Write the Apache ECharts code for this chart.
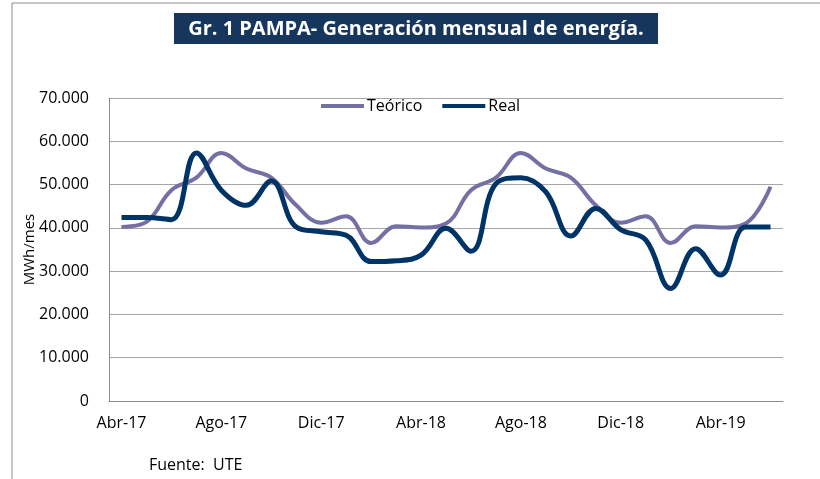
<!DOCTYPE html>
<html>
<head>
<meta charset="utf-8">
<script src="https://cdn.jsdelivr.net/npm/echarts@6/dist/echarts.min.js"></script>
<style>
  html, body { margin: 0; padding: 0; background: #fff; }
  #echar { width: 820px; height: 479px; }
</style>
</head>
<body>
<div id="echar"></div>
<script>
// meses Abr-17 .. Jun-19
var meses = ["Abr-17", "May-17", "Jun-17", "Jul-17", "Ago-17", "Sep-17", "Oct-17", "Nov-17", "Dic-17",
  "Ene-18", "Feb-18", "Mar-18", "Abr-18", "May-18", "Jun-18", "Jul-18", "Ago-18", "Sep-18", "Oct-18",
  "Nov-18", "Dic-18", "Ene-19", "Feb-19", "Mar-19", "Abr-19", "May-19", "Jun-19"];
var teorico = [40200, 41400, 48700, 51600, 57300, 53700, 51600, 45200, 41200, 42700, 36500, 40400, 40100,
  41000, 48700, 51600, 57300, 53700, 51600, 45200, 41200, 42700, 36500, 40400, 40100, 41000, 49500];
var real = [42400, 42400, 41900, 57300, 48700, 45200, 50800, 40200, 39100, 38300, 32200, 32400, 33700,
  39900, 34600, 50200, 51600, 48300, 38100, 44500, 39600, 37200, 26000, 35200, 29100, 40200, 40200];

var fuente = "Open Sans";
var mychart = echarts.init(document.getElementById("echar"));
var option = {
  animation: false,
  textStyle: { fontFamily: fuente },
  graphic: [
    {
      type: "polyline",
      shape: { points: [[12, 479], [12, 3], [820, 3]] },
      style: { stroke: "#8c8c8c", lineWidth: 1, fill: null },
    },
    {
      type: "rect",
      shape: { x: 174, y: 13, width: 484, height: 31 },
      style: { fill: "#17365d" },
    },
    {
      type: "text",
      x: 416,
      y: 29,
      style: {
        text: "Gr. 1 PAMPA- Generación mensual de energía.",
        fill: "#fff",
        font: "bold 20px 'Open Sans'",
        align: "center",
        verticalAlign: "middle",
      },
    },
    {
      type: "text",
      x: 149,
      y: 465,
      style: {
        text: "Fuente:  UTE",
        fill: "#000",
        font: "16px 'Open Sans'",
        verticalAlign: "middle",
      },
    },
  ],
  legend: {
    left: 316,
    top: 93,
    itemWidth: 43,
    itemHeight: 4,
    itemGap: 20,
    icon: "rect",
    textStyle: { fontSize: 16, color: "#000", padding: [0, 0, 0, -2] },
    data: ["Teórico", "Real"],
  },
  grid: { left: 109, right: 37, top: 98, bottom: 78 },
  xAxis: {
    type: "category",
    boundaryGap: true,
    data: meses,
    axisLine: { lineStyle: { color: "#8c8c8c" } },
    axisTick: { show: false },
    axisLabel: { interval: 3, color: "#000", fontSize: 16, margin: 14 },
  },
  yAxis: {
    type: "value",
    min: 0,
    max: 70000,
    interval: 10000,
    name: "MWh/mes",
    nameLocation: "middle",
    nameGap: 72,
    nameMoveOverlap: false,
    nameTextStyle: { fontSize: 15, color: "#000" },
    axisLine: { show: true, lineStyle: { color: "#8c8c8c" } },
    axisTick: { show: false },
    splitLine: { lineStyle: { color: "#a6a6a6" } },
    axisLabel: {
      color: "#000",
      fontSize: 16,
      margin: 20,
      formatter: function (v) {
        return v === 0 ? "0" : v / 1000 + ".000";
      },
    },
  },
  series: [
    {
      name: "Teórico",
      type: "line",
      data: teorico,
      smooth: 0.4,
      showSymbol: false,
      color: "#7570a3",
      lineStyle: { width: 4 },
    },
    {
      name: "Real",
      type: "line",
      data: real,
      smooth: 0.4,
      showSymbol: false,
      color: "#003366",
      lineStyle: { width: 5 },
    },
  ],
};
mychart.setOption(option);
</script>
</body>
</html>
